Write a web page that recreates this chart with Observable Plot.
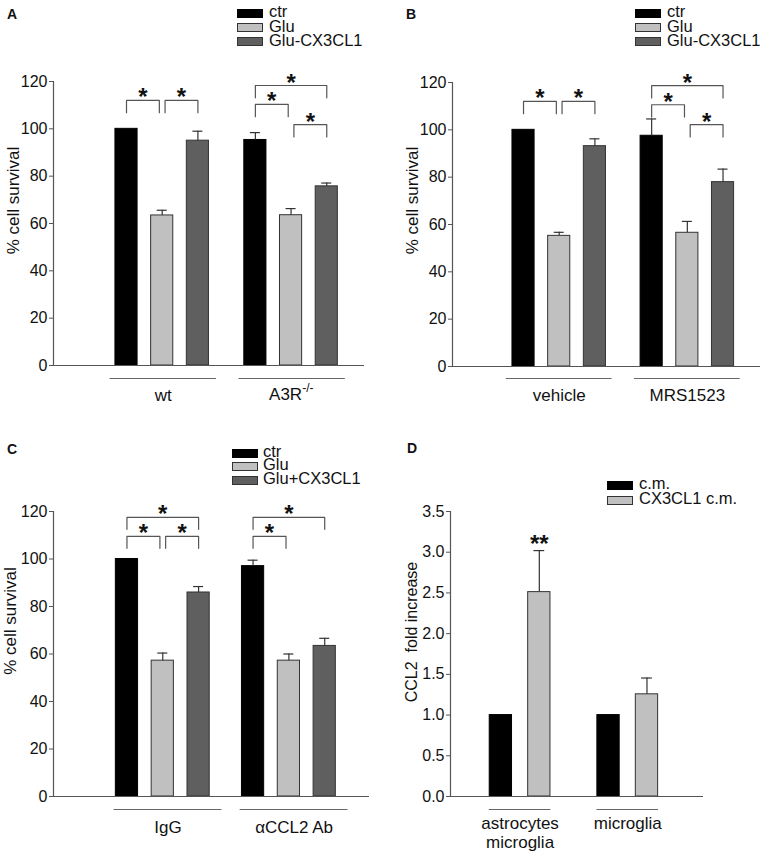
<!DOCTYPE html>
<html><head><meta charset="utf-8">
<script src="https://cdn.jsdelivr.net/npm/d3@7"></script>
<script src="https://cdn.jsdelivr.net/npm/@observablehq/plot@0.6"></script>
<style>
body{margin:0;background:#fff;}
#root{position:relative;width:767px;height:854px;overflow:hidden;font-family:"Liberation Sans",Arial,sans-serif;background:#fff;color:#111;}
.panel{position:absolute;}
.letter{position:absolute;font-weight:bold;font-size:14px;line-height:13px;height:13px;}
.sw{position:absolute;width:24px;height:7px;border:1px solid #333;}
.lt{position:absolute;font-size:16.5px;white-space:pre;}
</style></head><body><div id="root"></div>
<script>
// ---------- data ----------
const seriesAB = ["ctr", "Glu", "Glu-CX3CL1"];
const seriesC = ["ctr", "Glu", "Glu+CX3CL1"];
const seriesD = ["c.m.", "CX3CL1 c.m."];
const barColors = ["#000000", "#c0c0c0", "#5f5f5f"];
const yTicksPct = [0, 20, 40, 60, 80, 100, 120];
const yTicksD = [0, 0.5, 1.0, 1.5, 2.0, 2.5, 3.0, 3.5];

const groupsA = ["wt", "A3R"];
const groupSupA = ["", "-/-"];
const valuesA = [[100, 63.4, 95.0], [95.3, 63.5, 75.7]];
const errorsA = [[0, 2.2, 4.0], [3.1, 2.8, 1.4]];
const bracketsA = [
  {group: 0, from: 0, to: 1, top: 112, label: "*"},
  {group: 0, from: 1, to: 2, top: 112, label: "*"},
  {group: 1, from: 0, to: 2, top: 118.3, label: "*"},
  {group: 1, from: 0, to: 1, top: 110.3, label: "*"},
  {group: 1, from: 1, to: 2, top: 101.8, label: "*"}
];

const groupsB = ["vehicle", "MRS1523"];
const valuesB = [[100, 55.2, 93.1], [97.5, 56.5, 77.9]];
const errorsB = [[0, 1.5, 3.1], [7.1, 4.8, 5.5]];
const bracketsB = [
  {group: 0, from: 0, to: 1, top: 112, label: "*"},
  {group: 0, from: 1, to: 2, top: 112, label: "*"},
  {group: 1, from: 0, to: 2, top: 118.7, label: "*"},
  {group: 1, from: 0, to: 1, top: 110.6, label: "*"},
  {group: 1, from: 1, to: 2, top: 102.2, label: "*"}
];

const groupsC = ["IgG", "αCCL2 Ab"];
const valuesC = [[100, 57.2, 85.9], [97.0, 57.2, 63.4]];
const errorsC = [[0, 3.2, 2.5], [2.5, 2.8, 3.2]];
const bracketsC = [
  {group: 0, from: 0, to: 2, top: 117.5, label: "*"},
  {group: 0, from: 0, to: 1, top: 109.5, label: "*"},
  {group: 0, from: 1, to: 2, top: 109.5, label: "*"},
  {group: 1, from: 0, to: 2, top: 117.5, label: "*"},
  {group: 1, from: 0, to: 1, top: 109.5, label: "*"}
];

const groupsD = ["astrocytes\nmicroglia", "microglia"];
const valuesD = [[1.0, 2.51], [1.0, 1.255]];
const errorsD = [[0, 0.51], [0, 0.20]];
const starsD = [{group: 0, series: 1, label: "**"}];

// ---------- drawing ----------
const root = document.getElementById("root");
const FONT = "Liberation Sans, Arial, sans-serif";

function drawPanel(cfg) {
  const {groups, series, values, errors, brackets = [], stars = [], G, half} = cfg;
  const bars = [];
  groups.forEach((g, gi) => series.forEach((s, si) =>
    bars.push({gi, si, x: gi * G + si, v: values[gi][si], e: errors[gi][si]})));
  const errs = bars.filter(d => d.e > 0);
  const grp = groups.map((g, gi) => ({
    label: g, sup: cfg.groupSup ? cfg.groupSup[gi] : "",
    x1: gi * G + cfg.lineExt[0], x2: gi * G + cfg.lineExt[1]
  }));
  const ins = 0.08;
  const br = brackets.map((b, i) => {
    const x1 = b.group * G + b.from + (b.from === 1 ? ins : 0);
    const x2 = b.group * G + b.to - (b.to === 1 ? ins : 0);
    return {id: i, x1, x2, top: b.top, bottom: b.top - cfg.leg, label: b.label};
  });
  const brPts = br.flatMap(b => [
    {id: b.id, x: b.x1, y: b.bottom}, {id: b.id, x: b.x1, y: b.top},
    {id: b.id, x: b.x2, y: b.top}, {id: b.id, x: b.x2, y: b.bottom}
  ]);
  const st = stars.map(s => {
    const d = bars.find(b => b.gi === s.group && b.si === s.series);
    return {x: d.x, y: d.v + d.e, label: s.label};
  });
  const cap = 0.14;
  const plain = grp.filter(d => !d.sup);
  const withSup = grp.filter(d => d.sup);
  const mid = d => (d.x1 + d.x2) / 2;
  const marks = [
    Plot.rect(bars, {x1: d => d.x - half, x2: d => d.x + half, y1: 0, y2: "v",
      fill: d => barColors[d.si], stroke: d => d.si === 0 ? "#000" : "#333", strokeWidth: 1}),
    Plot.ruleX(errs, {x: "x", y1: "v", y2: d => d.v + d.e, stroke: "#333", strokeWidth: 1.2}),
    Plot.ruleY(errs, {y: d => d.v + d.e, x1: d => d.x - cap, x2: d => d.x + cap, stroke: "#333", strokeWidth: 1.2}),
    Plot.ruleX([cfg.xDomain[0]], {y1: cfg.yDomain[0], y2: cfg.yDomain[1], stroke: "#555", strokeWidth: 1.2}),
    Plot.ruleY([0], {stroke: "#555", strokeWidth: 1.2}),
    Plot.axisY({ticks: cfg.yTicks, tickSize: 4, tickPadding: 2, tickFormat: cfg.tickFormat,
      fontSize: 16, label: null, stroke: "#555", fill: "#111"}),
    Plot.ruleY(grp, {y: 0, x1: "x1", x2: "x2", dy: cfg.lineDy, stroke: "#666", strokeWidth: 1.2}),
    Plot.line(brPts, {x: "x", y: "y", z: "id", stroke: "#555", strokeWidth: 1.2}),
    Plot.text(br, {x: mid, y: "top", text: "label", lineAnchor: "bottom",
      dy: 5, fontSize: 24, fontWeight: "bold", fill: "#111"}),
    Plot.text(st, {x: "x", y: "y", text: "label", lineAnchor: "bottom", dy: 1, fontSize: 24, fontWeight: "bold", fill: "#111"}),
    Plot.text([cfg.yLabel], {text: d => d, frameAnchor: "left", textAnchor: "middle", lineAnchor: "middle",
      rotate: -90, dx: cfg.yLabelDx, dy: cfg.yLabelDy, fontSize: cfg.yLabelSize, fill: "#111"}),
    Plot.text(plain, {x: mid, y: 0, text: "label", lineAnchor: "top",
      lineHeight: 1.1, dy: cfg.labelDy, fontSize: 17, fill: "#111"}),
    Plot.text(withSup, {x: mid, y: 0, text: "label", lineAnchor: "top",
      textAnchor: "end", dx: 10, dy: cfg.labelDy, fontSize: 17, fill: "#111"}),
    Plot.text(withSup, {x: mid, y: 0, text: "sup", lineAnchor: "top",
      textAnchor: "start", dx: 10, dy: cfg.labelDy - 5, fontSize: 12, fill: "#111"})
  ];
  const svg = Plot.plot({
    width: cfg.width, height: cfg.height,
    marginTop: cfg.mt, marginBottom: cfg.mb, marginLeft: cfg.ml, marginRight: cfg.mr,
    x: {domain: cfg.xDomain, axis: null},
    y: {domain: cfg.yDomain},
    style: {fontFamily: FONT, fontSize: "16px", background: "transparent", overflow: "visible", color: "#111"},
    marks
  });
  const div = document.createElement("div");
  div.className = "panel";
  div.style.left = cfg.left + "px";
  div.style.top = cfg.top + "px";
  div.appendChild(svg);
  root.appendChild(div);
}

// legend: swatches plus one multi-line text block
function legend(items, colors, swLeft, textLeft, firstCenter, spacing) {
  items.forEach((name, i) => {
    const sw = document.createElement("div");
    sw.className = "sw";
    sw.style.left = swLeft + "px";
    sw.style.top = (firstCenter + i * spacing - 4.5) + "px";
    sw.style.background = colors[i];
    if (i === 0) sw.style.borderColor = "#000";
    root.appendChild(sw);
  });
  const fs = 16.5;
  const t = document.createElement("div");
  t.className = "lt";
  t.style.left = textLeft + "px";
  t.style.lineHeight = spacing + "px";
  const firstBaseline = firstCenter + 4.3;
  t.style.top = (firstBaseline - ((spacing - 1.117 * fs) / 2 + 0.905 * fs)) + "px";
  t.textContent = items.join("\n");
  root.appendChild(t);
}

function letter(txt, x, y) {
  const d = document.createElement("div");
  d.className = "letter";
  d.style.left = x + "px";
  d.style.top = y + "px";
  d.textContent = txt;
  root.appendChild(d);
}

const fmtInt = d3.format("d");
const fmtD = d3.format(".1f");

drawPanel({left: 0, top: 0, width: 384, height: 420, mt: 81, mb: 55, ml: 53, mr: 20,
  xDomain: [-2.045, 6.667], yDomain: [0, 120], yTicks: yTicksPct, tickFormat: fmtInt,
  G: 3.61, half: 0.31, leg: 5.2, lineExt: [-0.46, 2.52], lineDy: 13, labelDy: 22.5,
  groups: groupsA, groupSup: groupSupA, series: seriesAB, values: valuesA, errors: errorsA,
  brackets: bracketsA, yLabel: "% cell survival", yLabelSize: 17, yLabelDx: -40, yLabelDy: -23});

drawPanel({left: 384, top: 0, width: 383, height: 420, mt: 82, mb: 54, ml: 68, mr: 7,
  xDomain: [-1.99, 6.64], yDomain: [0, 120], yTicks: yTicksPct, tickFormat: fmtInt,
  G: 3.59, half: 0.31, leg: 5.2, lineExt: [-0.48, 2.48], lineDy: 12, labelDy: 21.5,
  groups: groupsB, series: seriesAB, values: valuesB, errors: errorsB,
  brackets: bracketsB, yLabel: "% cell survival", yLabelSize: 17, yLabelDx: -40, yLabelDy: -24});

drawPanel({left: 0, top: 420, width: 384, height: 434, mt: 91, mb: 58, ml: 53, mr: 15,
  xDomain: [-2.05, 6.77], yDomain: [0, 120], yTicks: yTicksPct, tickFormat: fmtInt,
  G: 3.52, half: 0.31, leg: 5, lineExt: [-0.36, 2.65], lineDy: 13, labelDy: 23.5,
  groups: groupsC, series: seriesC, values: valuesC, errors: errorsC,
  brackets: bracketsC, yLabel: "% cell survival", yLabelSize: 17, yLabelDx: -43, yLabelDy: -33});

drawPanel({left: 384, top: 420, width: 383, height: 434, mt: 91, mb: 58, ml: 66, mr: 64,
  xDomain: [-1.31, 5.27], yDomain: [0, 3.5], yTicks: yTicksD, tickFormat: fmtD,
  G: 2.8, half: 0.29, leg: 0, lineExt: [-0.3, 1.3], lineDy: 13, labelDy: 19.5,
  groups: groupsD, series: seriesD, values: valuesD, errors: errorsD, stars: starsD,
  yLabel: "CCL2\u00a0 fold increase", yLabelSize: 16, yLabelDx: -39, yLabelDy: -22});

legend(seriesAB, barColors, 237, 269, 13, 14.3);
legend(seriesAB, barColors, 635, 667, 13, 14.3);
legend(seriesC, barColors, 232, 263, 453, 13.5);
legend(seriesD, barColors, 607, 639, 485, 15);

letter("A", 7, 8);
letter("B", 406, 8);
letter("C", 7, 443);
letter("D", 407, 442);
</script></body></html>
